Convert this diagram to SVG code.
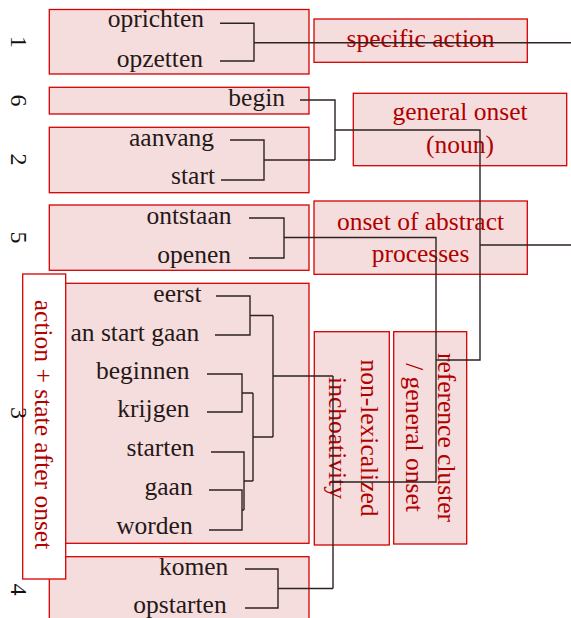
<svg xmlns="http://www.w3.org/2000/svg" width="571" height="618" viewBox="0 0 571 618">
<style>
.box{fill:#f6dddd;stroke:#d40000;stroke-width:1.3}
.wbox{fill:#ffffff;stroke:#d40000;stroke-width:1.3}
.lbl{font-family:"Liberation Serif",serif;font-size:25.5px;fill:#251818;text-anchor:end}
.cat{font-family:"Liberation Serif",serif;font-size:25.5px;fill:#b00000;text-anchor:middle}
.num{font-family:"Liberation Serif",serif;font-size:24px;fill:#111;text-anchor:middle}
.con{fill:none;stroke:#2e2222;stroke-width:1.4}
</style>
<rect width="571" height="618" fill="#ffffff"/>
<g id="cluster1"><rect class="box" x="49.3" y="9.5" width="259.7" height="64.5"/><text class="lbl" x="204" y="27">oprichten</text><text class="lbl" x="203" y="66.5">opzetten</text></g>
<g id="cluster6"><rect class="box" x="49.3" y="87.3" width="259.7" height="26.7"/><text class="lbl" x="285" y="105.5">begin</text></g>
<g id="cluster2"><rect class="box" x="49.3" y="127.3" width="259.7" height="65.4"/><text class="lbl" x="214" y="145.5">aanvang</text><text class="lbl" x="215" y="184">start</text></g>
<g id="cluster5"><rect class="box" x="49.3" y="205" width="259.7" height="65.3"/><text class="lbl" x="231.5" y="223.5">ontstaan</text><text class="lbl" x="231" y="262.5">openen</text></g>
<g id="cluster3"><rect class="box" x="49.3" y="283.3" width="259.7" height="260"/><text class="lbl" x="201.5" y="301.5">eerst</text><text class="lbl" x="199.3" y="340.5">an start gaan</text><text class="lbl" x="189.5" y="378.5">beginnen</text><text class="lbl" x="189.5" y="416.5">krijgen</text><text class="lbl" x="194.5" y="456">starten</text><text class="lbl" x="192.7" y="495">gaan</text><text class="lbl" x="192.7" y="534">worden</text></g>
<g id="cluster4"><rect class="box" x="49.3" y="556.7" width="259.7" height="66"/><text class="lbl" x="228.3" y="574.5">komen</text><text class="lbl" x="226.7" y="613">opstarten</text></g>
<g id="specific-action"><rect class="box" x="314" y="19" width="213.3" height="43.3"/><text class="cat" x="420.5" y="46.7">specific action</text></g>
<g id="general-onset"><rect class="box" x="353.3" y="93.3" width="213.4" height="72.4"/><text class="cat" x="460" y="120">general onset</text><text class="cat" x="460" y="153">(noun)</text></g>
<g id="abstract-onset"><rect class="box" x="314" y="201" width="213.3" height="73.3"/><text class="cat" x="420.5" y="230">onset of abstract</text><text class="cat" x="420.5" y="262">processes</text></g>
<g id="non-lexicalized"><rect class="box" x="314.3" y="331.7" width="75" height="213.3"/><text class="cat" transform="translate(361,438) rotate(90)">non-lexicalized</text><text class="cat" transform="translate(329,438) rotate(90)">inchoativity</text></g>
<g id="reference-cluster"><rect class="box" x="393.7" y="331.7" width="73" height="212.3"/><text class="cat" transform="translate(438,437.5) rotate(90)">reference cluster</text><text class="cat" transform="translate(406,437.5) rotate(90)">/ general onset</text></g>
<g id="action-state"><rect class="wbox" x="22.7" y="274" width="43" height="305"/><text class="cat" transform="translate(34.5,424.5) rotate(90)">action + state after onset</text></g>
<g id="connectors">
<path class="con" d="M220,23.3H254V61H220M254,42.7H571"/>
<path class="con" d="M300,100H335V160M230,140H264V180H221M264,160H335M335,130H480V360H436M480,245H571"/>
<path class="con" d="M249,218H284V258H249M284,237.5H436V482H333"/>
<path class="con" d="M216,296H250V335H215M250,315.5H273M207,374H242V412H207M242,393H253M211,452H244V510M209,490H242V530H209M242,510H244M244,481H253M253,393V481M253,437H273M273,315.5V437M273,376H333"/>
<path class="con" d="M245,569H278V608H245M278,588.5H333M333,376V588.5"/>
</g>
<g id="numbers">
<text class="num" transform="translate(11,42) rotate(90)">1</text>
<text class="num" transform="translate(11,100.5) rotate(90)">6</text>
<text class="num" transform="translate(11,159.5) rotate(90)">2</text>
<text class="num" transform="translate(11,237.5) rotate(90)">5</text>
<text class="num" transform="translate(11,413) rotate(90)">3</text>
<text class="num" transform="translate(11,589.5) rotate(90)">4</text>
</g>
</svg>
